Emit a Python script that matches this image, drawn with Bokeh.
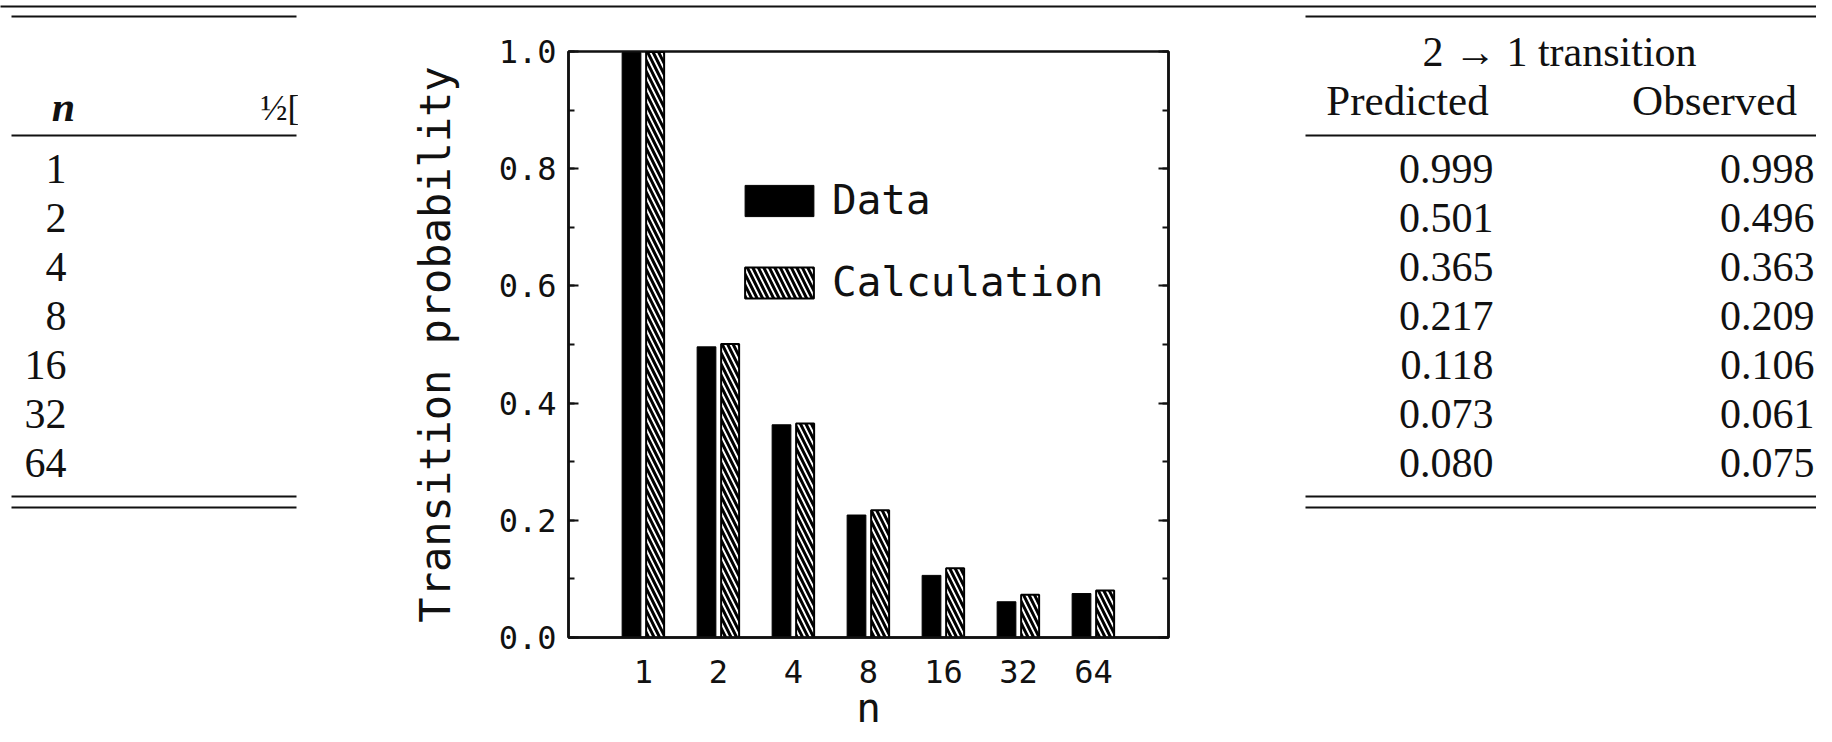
from bokeh.plotting import figure
from bokeh.models import (Range1d, FixedTicker, SingleIntervalTicker, LinearAxis, Legend,
                          LegendItem, PrintfTickFormatter)
from bokeh.layouts import column, row
from bokeh.embed import file_html
from bokeh.resources import INLINE
from bokeh.core.properties import value

# ---------------- data ----------------
n_values = ["1", "2", "4", "8", "16", "32", "64"]
data_observed = [0.998, 0.496, 0.363, 0.209, 0.106, 0.061, 0.075]
calc_predicted = [0.999, 0.501, 0.365, 0.217, 0.118, 0.073, 0.080]
legend_labels = ["Data", "Calculation"]
x_title = "n"
y_title = "Transition probability"
table_title = "2 \u2192 1 transition"
col_headers = ["Predicted", "Observed"]
n_header = "n"
cut_header = "\u00bd["

INK = "#111111"
SERIF = value("Liberation Serif")
MONO = "DejaVu Sans Mono"

OX = 4          # where the layout origin lands in the window
OY = 4
TOTAL_W, TOP_H, ROW_H = 1816, 20, 716
LEFT_W, CHART_W = 298, 994
RIGHT_W = TOTAL_W - LEFT_W - CHART_W


def blank(width, height, wx0, wy0):
    # panel whose data coordinates equal window pixel coordinates
    p = figure(width=width, height=height,
               x_range=Range1d(wx0, wx0 + width), y_range=Range1d(wy0 + height, wy0),
               toolbar_location=None, output_backend="svg", x_axis_location=None,
               y_axis_location=None, min_border=0, outline_line_color=None,
               background_fill_color="white", border_fill_color="white", frame_align=False)
    p.grid.visible = False
    return p


row_y = [172 + 49 * i for i in range(len(n_values))]
row_top = OY + TOP_H

# ---------------- top strip ----------------
top = blank(TOTAL_W, TOP_H, OX, OY)
top.segment(x0=[0, 15, 1309], y0=[10, 20, 20], x1=[1832, 300, 1832], y1=[10, 20, 20],
            line_color=INK, line_width=2)

# ---------------- left table ----------------
left = blank(LEFT_W, ROW_H, OX, row_top)
left.segment(x0=[15, 15, 15], y0=[139, 500, 511], x1=[300, 300, 300], y1=[139, 500, 511],
             line_color=INK, line_width=2)
left.text(x=[67], y=[110], text=[n_header], text_font=SERIF, text_font_size=value("42px"),
          text_font_style="bold italic", text_align="center", text_baseline="middle", text_color=INK)
left.text(x=[264], y=[111], text=[cut_header], text_font=SERIF, text_font_size=value("36px"),
          text_align="left", text_baseline="middle", text_color=INK)
left.text(x=[70] * len(n_values), y=row_y, text=n_values, text_font=SERIF,
          text_font_size=value("42px"), text_align="right", text_baseline="middle", text_color=INK)

# ---------------- right table ----------------
rx0 = OX + LEFT_W + CHART_W
right = blank(RIGHT_W, ROW_H, rx0, row_top)
right.segment(x0=[1309, 1309, 1309], y0=[139, 500, 511], x1=[1832, 1832, 1832], y1=[139, 500, 511],
              line_color=INK, line_width=2)
right.text(x=[1563], y=[55], text=[table_title], text_font=SERIF, text_font_size=value("42px"),
           text_align="center", text_baseline="middle", text_color=INK)
right.text(x=[1411, 1718], y=[104, 104], text=col_headers, text_font=SERIF,
           text_font_size=value("43px"), text_align="center", text_baseline="middle", text_color=INK)
right.text(x=[1497] * len(calc_predicted), y=row_y, text=[f"{v:.3f}" for v in calc_predicted],
           text_font=SERIF, text_font_size=value("42px"), text_align="right",
           text_baseline="middle", text_color=INK)
right.text(x=[1818] * len(data_observed), y=row_y, text=[f"{v:.3f}" for v in data_observed],
           text_font=SERIF, text_font_size=value("42px"), text_align="right",
           text_baseline="middle", text_color=INK)

# ---------------- chart ----------------
cx0 = OX + LEFT_W
frame_l, frame_r, frame_t, frame_b = 572, 1172, 55, 641
xs = list(range(1, len(n_values) + 1))
p = figure(width=CHART_W, height=ROW_H, x_range=Range1d(0, len(n_values) + 1), y_range=Range1d(0, 1),
           toolbar_location=None, output_backend="svg", frame_align=False,
           min_border_left=frame_l - cx0, min_border_right=cx0 + CHART_W - frame_r,
           min_border_top=frame_t - row_top, min_border_bottom=row_top + ROW_H - frame_b,
           outline_line_color=INK, outline_line_width=2.5,
           background_fill_color="white", border_fill_color="white")
p.grid.visible = False

r1 = p.vbar(x=[x - 0.16 for x in xs], top=data_observed, width=0.25,
            fill_color="black", line_color="black", line_width=1)
r2 = p.vbar(x=[x + 0.155 for x in xs], top=calc_predicted, width=0.24,
            fill_color="white", line_color="black", line_width=2,
            hatch_pattern="left_diagonal_line", hatch_color="black", hatch_scale=11, hatch_weight=3)

xa = p.xaxis[0]
xa.ticker = FixedTicker(ticks=xs)
xa.major_label_overrides = {x: lab for x, lab in zip(xs, n_values)}
xa.major_tick_line_color = None
xa.minor_tick_line_color = None
xa.major_tick_in = 0
xa.major_tick_out = 0
xa.axis_line_width = 2.5
xa.axis_line_color = INK
xa.major_label_text_font = MONO
xa.major_label_text_font_size = "32px"
xa.major_label_text_color = INK
xa.major_label_standoff = 22
xa.axis_label = x_title
xa.axis_label_text_font = MONO
xa.axis_label_text_font_size = "41px"
xa.axis_label_text_font_style = "normal"
xa.axis_label_text_color = INK
xa.axis_label_standoff = -2

ya = p.yaxis[0]
ya.ticker = SingleIntervalTicker(interval=0.2, num_minor_ticks=2)
ya.formatter = PrintfTickFormatter(format="%.1f")
ya.major_tick_in = 10
ya.major_tick_out = 0
ya.minor_tick_in = 6
ya.minor_tick_out = 0
ya.major_tick_line_width = 2
ya.minor_tick_line_width = 2
ya.major_tick_line_color = INK
ya.minor_tick_line_color = INK
ya.axis_line_width = 2.5
ya.axis_line_color = INK
ya.major_label_text_font = MONO
ya.major_label_text_font_size = "32px"
ya.major_label_text_color = INK
ya.major_label_standoff = 12
ya.axis_label = y_title
ya.axis_label_text_font = MONO
ya.axis_label_text_font_size = "42px"
ya.axis_label_text_font_style = "normal"
ya.axis_label_text_color = INK
ya.axis_label_standoff = 36

ra = LinearAxis(ticker=SingleIntervalTicker(interval=0.2, num_minor_ticks=2),
                major_label_text_color=None, major_label_text_font_size="1px",
                major_tick_in=10, major_tick_out=0, minor_tick_in=6, minor_tick_out=0,
                major_tick_line_width=2, minor_tick_line_width=2,
                major_tick_line_color=INK, minor_tick_line_color=INK,
                axis_line_width=2.5, axis_line_color=INK)
p.add_layout(ra, "right")

legend = Legend(items=[LegendItem(label=legend_labels[0], renderers=[r1]),
                       LegendItem(label=legend_labels[1], renderers=[r2])],
                location=(168, 331), orientation="vertical",
                glyph_width=86, glyph_height=39, label_height=39, label_standoff=10, spacing=34,
                padding=0, margin=0, border_line_color=None, background_fill_alpha=0,
                label_text_font=MONO, label_text_font_size="41px", label_text_color=INK)
p.add_layout(legend)

page = column(top, row(left, p, right, spacing=0), spacing=0)
open("out.html", "w").write(file_html(page, INLINE))
